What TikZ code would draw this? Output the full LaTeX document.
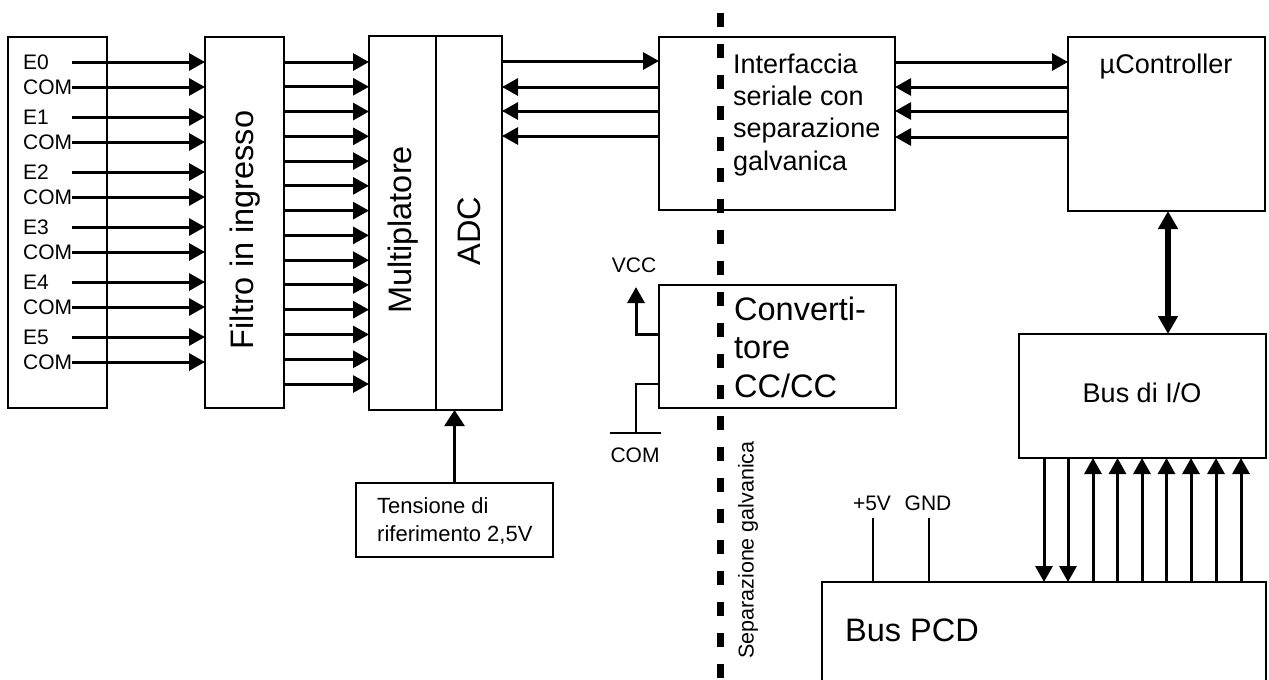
\documentclass[tikz,border=0pt]{standalone}
\usepackage{fontspec}
\setmainfont{Liberation Sans}
\usetikzlibrary{arrows.meta}
\newcommand\fsz[2]{\fontsize{#1}{#2}\selectfont}
\begin{document}
\begin{tikzpicture}[x=1pt,y=-1pt,
  box/.style={draw, line width=2pt, inner sep=0pt, outer sep=0pt},
  arr/.style={line width=3pt, -{Triangle[length=16pt,width=17pt]}},
  refarr/.style={line width=2.5pt, -{Triangle[length=16pt,width=20pt]}},
  dblarr/.style={line width=6pt, {Triangle[length=18pt,width=19pt]}-{Triangle[length=18pt,width=19pt]}},
  thinln/.style={line width=1.3pt},
  midln/.style={line width=2pt},
  lbl/.style={inner sep=0pt, font=\fsz{21}{25}},
  sep/.style={line width=7pt, dash pattern=on 14pt off 17pt}
]
\useasboundingbox (0,0) rectangle (1269,680);
\fill[white] (0,0) rectangle (1269,680);

% boxes
\node[box, minimum width=99pt, minimum height=371pt] (inb) at (57.5,222.5) {};
\node[box, minimum width=79pt, minimum height=371pt] (fil) at (244.5,222.5) {};
\node[box, minimum width=67pt, minimum height=374pt] (mux) at (402.5,223) {};
\node[box, minimum width=66pt, minimum height=374pt] (adc) at (469,223) {};
\node[box, minimum width=236pt, minimum height=173pt] (ifc) at (777,123.5) {};
\node[box, minimum width=197pt, minimum height=174pt] (uc) at (1166.5,124) {};
\node[box, minimum width=247pt, minimum height=124pt] (bio) at (1142.5,396) {};
\node[box, minimum width=444pt, minimum height=118pt] (pcd) at (1044,641) {};
\node[box, minimum width=237pt, minimum height=123pt] (cnv) at (777.5,346.5) {};
\node[box, minimum width=197pt, minimum height=74pt] (ref) at (454.5,520) {};

% texts
\foreach \n/\y/\t in {a/62/E0,b/87/COM,c/117/E1,d/142/COM,e/172/E2,f/197/COM,g/227/E3,h/252/COM,i/282/E4,j/307/COM,k/337/E5,l/362/COM}
  \node[lbl, anchor=west] (in\n) at (23,\y) {\t};
\node[rotate=90, inner sep=0pt, font=\fsz{32.5}{38}] (filt) at (245,230) {Filtro in ingresso};
\node[rotate=90, inner sep=0pt, font=\fsz{32.5}{38}] (muxt) at (403,230) {Multiplatore};
\node[rotate=90, inner sep=0pt, font=\fsz{32.5}{38}] (adct) at (469,231) {ADC};
\node[anchor=north west, inner sep=0pt, align=left, font=\fsz{27}{32.3}] (ifct) at (733,53.5)
  {Interfaccia\\seriale con\\separazione\\galvanica};
\node[inner sep=0pt, font=\fsz{27}{32}] (uct) at (1166,67) {µController};
\node[inner sep=0pt, font=\fsz{27}{32}] (biot) at (1142,393) {Bus di I/O};
\node[anchor=west, inner sep=0pt, font=\fsz{32.5}{38}] (pcdt) at (845,630) {Bus PCD};
\node[anchor=north west, inner sep=0pt, align=left, font=\fsz{32.5}{38.5}] (cnvt) at (734,296.5)
  {Converti-\\tore\\CC/CC};
\node[anchor=north west, inner sep=0pt, align=left, font=\fsz{22}{28.5}] (reft) at (377,497)
  {Tensione di\\riferimento 2,5V};
\node[lbl] (vcc) at (634,265) {VCC};
\node[lbl] (com) at (635,455) {COM};
\node[lbl] (p5) at (872,503) {+5V};
\node[lbl] (gnd) at (928,503) {GND};
\node[rotate=90, inner sep=0pt, font=\fsz{21.5}{25}] (sept) at (748,550) {Separazione galvanica};

% input arrows
\foreach \y in {62,87,117,142,172,197,227,252,282,307,337,362}
  \draw[arr] (inb.east |- 0,\y) -- (fil.west |- 0,\y);
% filter outputs
\foreach \k in {0,...,13}
  \draw[arr] (fil.east |- 0,62+\k*24.77) -- (mux.west |- 0,62+\k*24.77);
% ADC <-> interface
\draw[arr] (adc.east |- 0,61) -- (ifc.west |- 0,61);
\foreach \y in {87,111,136}
  \draw[arr] (ifc.west |- 0,\y) -- (adc.east |- 0,\y);
% interface <-> uC
\draw[arr] (ifc.east |- 0,62) -- (uc.west |- 0,62);
\foreach \y in {87,111,137}
  \draw[arr] (uc.west |- 0,\y) -- (ifc.east |- 0,\y);
% uC <-> bus I/O
\draw[dblarr] (1168,0 |- uc.south) -- (1168,0 |- bio.north);
% bus I/O <-> PCD
\foreach \x in {1044,1068}
  \draw[arr] (\x,0 |- bio.south) -- (\x,0 |- pcd.north);
\foreach \x in {1093,1117.5,1142,1166.5,1191,1216,1241}
  \draw[arr] (\x,0 |- pcd.north) -- (\x,0 |- bio.south);
% +5V GND
\coordinate (p5top) at (873,518);
\coordinate (gndtop) at (929,518);
\draw[thinln] (p5top) -- (p5top |- pcd.north);
\draw[thinln] (gndtop) -- (gndtop |- pcd.north);
% reference
\draw[refarr] (ref.north) -- (ref.north |- adc.south);
% VCC / COM of converter
\coordinate (vcctip) at (636,287);
\draw[arr] (cnv.west |- 0,334) -| (vcctip);
\coordinate (gndpt) at (636,433);
\coordinate (gndL) at (610,433);
\coordinate (gndR) at (661,433);
\draw[midln] (cnv.west |- 0,384) -| (gndpt);
\draw[midln] (gndL) -- (gndR);
% separation line
\coordinate (sepTop) at (720,13);
\coordinate (sepBot) at (720,690);
\draw[sep] (sepTop) -- (sepBot);
\end{tikzpicture}
\end{document}
